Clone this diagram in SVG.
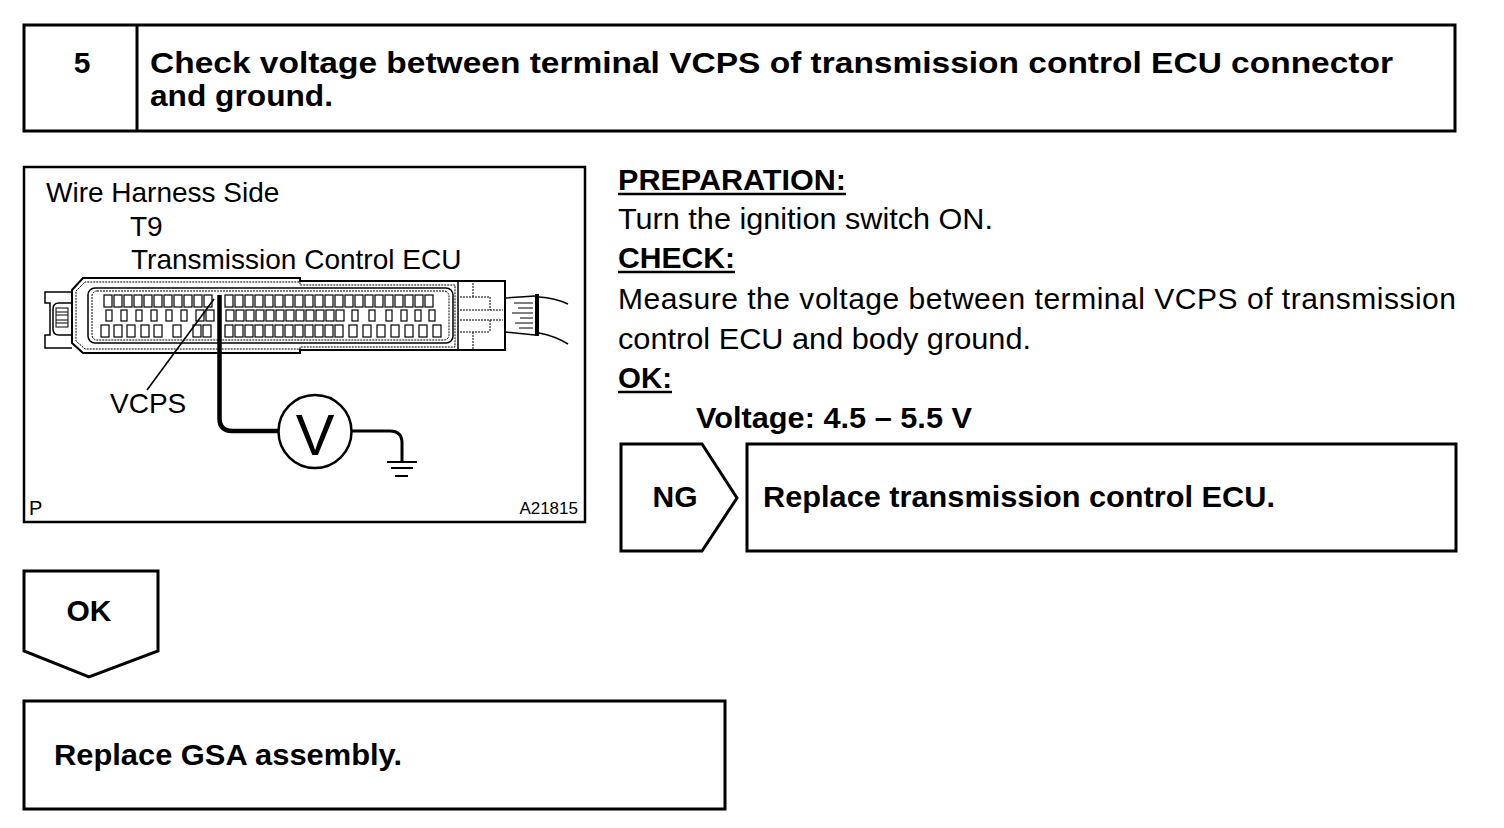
<svg xmlns="http://www.w3.org/2000/svg" width="1504" height="828" viewBox="0 0 1504 828">
<style>
.box{fill:#fff;stroke:#000;stroke-width:3}
.t{font-family:"Liberation Sans",Arial,sans-serif;fill:#000}
.b{font-weight:bold}
.r30{font-size:30px}
.l28{font-size:28px}
.ln{fill:none;stroke:#000;stroke-width:1.5}
.thin{fill:none;stroke:#000;stroke-width:1}
.dot{fill:none;stroke:#000;stroke-width:1;stroke-dasharray:2 1}
.pin{fill:#fff;stroke:#000;stroke-width:1.2}
</style>
<rect width="1504" height="828" fill="#fff"/>

<g id="header">
<rect class="box" x="24" y="25" width="1431" height="106"/>
<line x1="137" y1="25" x2="137" y2="131" stroke="#000" stroke-width="3"/>
<text class="t b" x="82" y="73" font-size="30" text-anchor="middle">5</text>
<text class="t b" x="150" y="73" font-size="30" textLength="1243" lengthAdjust="spacingAndGlyphs">Check voltage between terminal VCPS of transmission control ECU connector</text>
<text class="t b" x="150" y="106" font-size="30" textLength="183" lengthAdjust="spacingAndGlyphs">and ground.</text>
</g>

<g id="illustration">
<rect x="24" y="167" width="561" height="355" fill="#fff" stroke="#000" stroke-width="2.5"/>
<text class="t l28" x="46" y="202">Wire Harness Side</text>
<text class="t l28" x="130" y="236">T9</text>
<text class="t l28" x="131" y="269">Transmission Control ECU</text>

<!-- latch -->
<path class="ln" d="M72,292 H45 V303 H50 V335 H45 V348 H72"/>
<path class="ln" d="M72,303 H59 Q53,303 53,309 V329 Q53,335 59,335 H72"/>
<rect class="thin" x="56" y="308" width="12" height="19" fill="#fff"/>
<path class="thin" d="M56,312 H68 M56,315 H68 M56,320 H68 M56,323 H68"/>

<!-- housing -->
<path d="M72,290 L83,278 H300 V281 H505 V350 H300 V353 H83 L72,343 Z" fill="#fff" stroke="#000" stroke-width="2"/>
<path class="dot" d="M76,291 L85,282 H300 V285 H455 V347 H300 V349 H85 L76,341 Z"/>
<rect x="88" y="288" width="365" height="55" rx="7" fill="#fff" stroke="#000" stroke-width="1.5"/>
<rect class="dot" x="92" y="291" width="357" height="49" rx="5"/>

<!-- right box -->
<path class="ln" d="M458,281 V350"/>
<path class="dot" d="M460,297 H490 M460,310 H503 M460,320 H503 M460,332 H490 M473,283 V297 M473,332 V349 M490,297 V310 M490,320 V332"/>

<!-- wire harness -->
<path class="ln" d="M505,298 L535,296 M505,332 L535,335"/>
<rect x="535" y="294" width="4" height="42" fill="#000"/>
<path class="ln" d="M539,297 Q555,298 568,304 M539,333 Q555,336 568,344"/>
<path class="thin" d="M514,303 H533 M518,308 H533 M512,313 H533 M520,318 H533 M515,323 H533 M519,328 H533"/>

<!-- pins -->
<g class="pin">
<rect x="104" y="295" width="8" height="12"/><rect x="114" y="295" width="8" height="12"/><rect x="124" y="295" width="8" height="12"/><rect x="134" y="295" width="8" height="12"/><rect x="144" y="295" width="8" height="12"/><rect x="154" y="295" width="8" height="12"/><rect x="164" y="295" width="8" height="12"/><rect x="174" y="295" width="8" height="12"/><rect x="184" y="295" width="8" height="12"/><rect x="194" y="295" width="8" height="12"/><rect x="204" y="295" width="8" height="12"/>
<rect x="225" y="295" width="8" height="12"/><rect x="235" y="295" width="8" height="12"/><rect x="245" y="295" width="8" height="12"/><rect x="255" y="295" width="8" height="12"/><rect x="265" y="295" width="8" height="12"/><rect x="275" y="295" width="8" height="12"/><rect x="285" y="295" width="8" height="12"/><rect x="295" y="295" width="8" height="12"/><rect x="305" y="295" width="8" height="12"/><rect x="315" y="295" width="8" height="12"/><rect x="325" y="295" width="8" height="12"/><rect x="335" y="295" width="8" height="12"/><rect x="345" y="295" width="8" height="12"/><rect x="355" y="295" width="8" height="12"/><rect x="365" y="295" width="8" height="12"/><rect x="375" y="295" width="8" height="12"/><rect x="385" y="295" width="8" height="12"/><rect x="395" y="295" width="8" height="12"/><rect x="405" y="295" width="8" height="12"/><rect x="415" y="295" width="8" height="12"/><rect x="425" y="295" width="8" height="12"/>
<rect x="106" y="310" width="6" height="11"/><rect x="121" y="310" width="6" height="11"/><rect x="136" y="310" width="6" height="11"/><rect x="151" y="310" width="6" height="11"/><rect x="166" y="310" width="6" height="11"/><rect x="181" y="310" width="6" height="11"/>
<rect x="196" y="310" width="8" height="11"/><rect x="206" y="310" width="8" height="11"/><rect x="226" y="310" width="8" height="11"/><rect x="236" y="310" width="8" height="11"/><rect x="246" y="310" width="8" height="11"/><rect x="256" y="310" width="8" height="11"/><rect x="266" y="310" width="8" height="11"/><rect x="276" y="310" width="8" height="11"/><rect x="286" y="310" width="8" height="11"/><rect x="296" y="310" width="8" height="11"/><rect x="306" y="310" width="8" height="11"/><rect x="316" y="310" width="8" height="11"/><rect x="326" y="310" width="8" height="11"/><rect x="336" y="310" width="8" height="11"/>
<rect x="352" y="310" width="6" height="11"/><rect x="369" y="310" width="6" height="11"/><rect x="386" y="310" width="6" height="11"/><rect x="401" y="310" width="6" height="11"/><rect x="415" y="310" width="6" height="11"/><rect x="429" y="310" width="6" height="11"/>
<rect x="101" y="325" width="8" height="12"/><rect x="114" y="325" width="8" height="12"/><rect x="127" y="325" width="8" height="12"/><rect x="141" y="325" width="8" height="12"/><rect x="154" y="325" width="8" height="12"/><rect x="173" y="325" width="8" height="12"/>
<rect x="193" y="325" width="8" height="12"/><rect x="203" y="325" width="8" height="12"/><rect x="225" y="325" width="8" height="12"/><rect x="235" y="325" width="8" height="12"/><rect x="245" y="325" width="8" height="12"/><rect x="255" y="325" width="8" height="12"/><rect x="265" y="325" width="8" height="12"/><rect x="275" y="325" width="8" height="12"/><rect x="285" y="325" width="8" height="12"/><rect x="295" y="325" width="8" height="12"/><rect x="305" y="325" width="8" height="12"/><rect x="315" y="325" width="8" height="12"/><rect x="325" y="325" width="8" height="12"/><rect x="335" y="325" width="8" height="12"/>
<rect x="349" y="325" width="8" height="12"/><rect x="363" y="325" width="8" height="12"/><rect x="377" y="325" width="8" height="12"/><rect x="391" y="325" width="8" height="12"/><rect x="405" y="325" width="8" height="12"/><rect x="419" y="325" width="8" height="12"/><rect x="433" y="325" width="8" height="12"/>
</g>

<!-- leader and probe -->
<line x1="214" y1="299" x2="147" y2="390" stroke="#000" stroke-width="1.6"/>
<text class="t l28" x="110" y="413">VCPS</text>
<path d="M219.5,295 V418 Q219.5,431 232,431 H278" fill="none" stroke="#000" stroke-width="4.5"/>
<circle cx="315" cy="431.5" r="36.5" fill="#fff" stroke="#000" stroke-width="2.5"/>
<text class="t" x="315" y="455" font-size="58" text-anchor="middle">V</text>
<path d="M351.5,431 H390 Q402,431 402,443 V462" fill="none" stroke="#000" stroke-width="3"/>
<path d="M387,462 H417 M391,468 H413 M395,476 H408" fill="none" stroke="#000" stroke-width="2"/>

<text class="t" x="29" y="515" font-size="20">P</text>
<text class="t" x="578" y="514" font-size="17" text-anchor="end">A21815</text>
</g>

<g id="instructions">
<text class="t b r30" x="618" y="190" textLength="228" lengthAdjust="spacingAndGlyphs">PREPARATION:</text>
<line x1="618" y1="194" x2="846" y2="194" stroke="#000" stroke-width="2.5"/>
<text class="t r30" x="618" y="229" textLength="375" lengthAdjust="spacingAndGlyphs">Turn the ignition switch ON.</text>
<text class="t b r30" x="618" y="268" textLength="117" lengthAdjust="spacingAndGlyphs">CHECK:</text>
<line x1="618" y1="272" x2="735" y2="272" stroke="#000" stroke-width="2.5"/>
<text class="t r30" x="618" y="309" textLength="838" lengthAdjust="spacing">Measure the voltage between terminal VCPS of transmission</text>
<text class="t r30" x="618" y="349" textLength="413" lengthAdjust="spacingAndGlyphs">control ECU and body ground.</text>
<text class="t b r30" x="618" y="388" textLength="54" lengthAdjust="spacingAndGlyphs">OK:</text>
<line x1="618" y1="392" x2="672" y2="392" stroke="#000" stroke-width="2.5"/>
<text class="t b r30" x="696" y="428" textLength="276" lengthAdjust="spacingAndGlyphs">Voltage: 4.5 – 5.5 V</text>
</g>

<g id="ng-label">
<path class="box" d="M621,444 H702 L737,498 L702,551 H621 Z"/>
<text class="t b r30" x="675" y="507" text-anchor="middle">NG</text>
</g>
<g id="ng-result">
<rect class="box" x="747" y="444" width="709" height="107"/>
<text class="t b r30" x="763" y="507" textLength="512" lengthAdjust="spacingAndGlyphs">Replace transmission control ECU.</text>
</g>

<g id="ok-label">
<path class="box" d="M24,571 H158 V651 L89,677 L24,651 Z"/>
<text class="t b r30" x="89" y="621" text-anchor="middle">OK</text>
</g>
<g id="ok-result">
<rect class="box" x="24" y="701" width="701" height="108"/>
<text class="t b r30" x="54" y="765" textLength="348" lengthAdjust="spacingAndGlyphs">Replace GSA assembly.</text>
</g>

<g id="connectors"></g>
</svg>
